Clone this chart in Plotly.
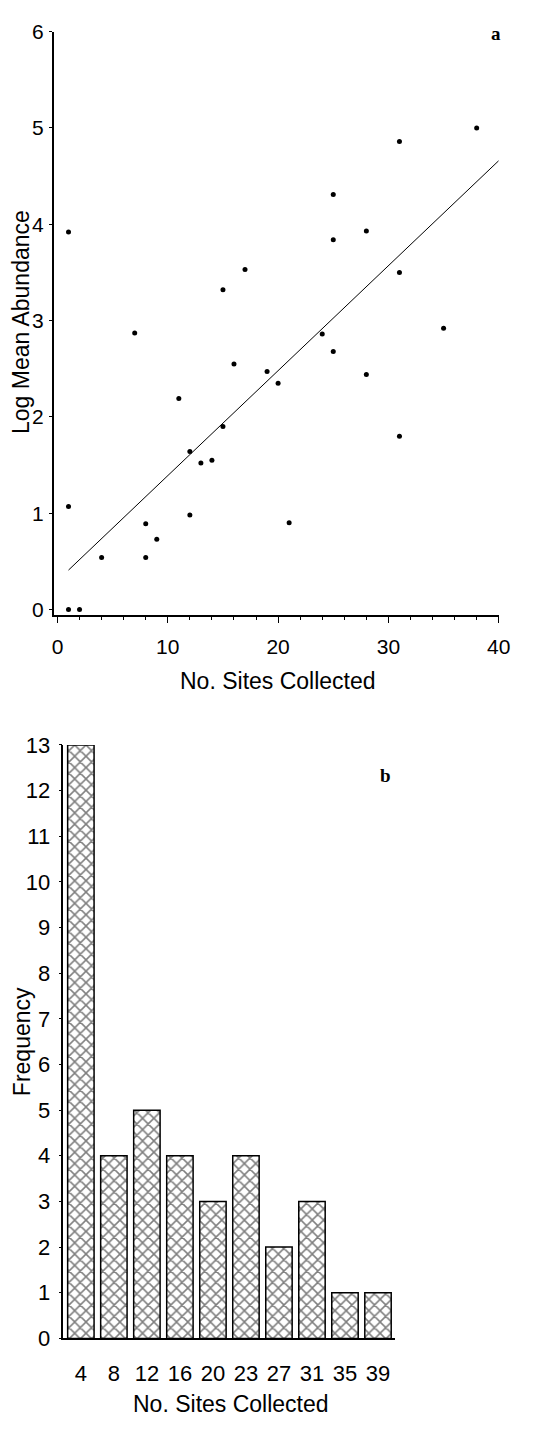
import plotly.graph_objects as go

# ---- Panel a data: number of sites collected vs log mean abundance ----
sites = [1, 1, 1, 2, 4, 7, 8, 8, 9, 11, 12, 12, 13, 14, 15, 15, 16, 17, 19, 20,
         21, 24, 25, 25, 25, 28, 28, 31, 31, 31, 35, 38]
log_abund = [3.92, 1.07, 0.0, 0.0, 0.54, 2.87, 0.89, 0.54, 0.73, 2.19, 1.64, 0.98,
             1.52, 1.55, 1.90, 3.32, 2.55, 3.53, 2.47, 2.35, 0.90, 2.86, 4.31, 3.84,
             2.68, 3.93, 2.44, 4.86, 3.50, 1.80, 2.92, 5.00]

# regression line
fit_intercept = 0.30
fit_slope = 0.109
fit_x = [1, 40]
fit_y = [fit_intercept + fit_slope * v for v in fit_x]

# ---- Panel b data: histogram of number of sites collected ----
bin_labels = ["4", "8", "12", "16", "20", "23", "27", "31", "35", "39"]
frequency = [13, 4, 5, 4, 3, 4, 2, 3, 1, 1]

W, H = 538, 1429

def px(x):
    return x / W

def py(y):
    return 1 - y / H

FONT = "Liberation Sans, Arial, sans-serif"

fig = go.Figure()

fig.add_trace(go.Scatter(
    x=sites, y=log_abund, mode="markers",
    marker=dict(color="black", size=5),
    xaxis="x", yaxis="y", showlegend=False))

fig.add_trace(go.Scatter(
    x=fit_x, y=fit_y, mode="lines",
    line=dict(color="black", width=1),
    xaxis="x", yaxis="y", showlegend=False))

fig.add_trace(go.Bar(
    x=list(range(len(bin_labels))), y=frequency, width=0.8,
    marker=dict(color="white",
                line=dict(color="black", width=1.5),
                pattern=dict(shape="x", fgcolor="black", bgcolor="white",
                             size=8, solidity=0.35)),
    xaxis="x2", yaxis="y2", showlegend=False))

axis_common = dict(showgrid=False, zeroline=False, showline=True,
                   linecolor="black", linewidth=1.5, ticks="outside",
                   tickcolor="black", tickwidth=1, color="black")

fig.update_layout(
    width=W, height=H,
    margin=dict(l=0, r=0, t=0, b=0),
    paper_bgcolor="white", plot_bgcolor="white",
    font=dict(family=FONT, color="black"),
    xaxis=dict(**axis_common, domain=[px(53), px(510)], range=[-0.35, 40],
               tickvals=[0, 10, 20, 30, 40], ticklen=6,
               tickfont=dict(size=21, family=FONT),
               ticklabelstandoff=6,
               minor=dict(dtick=2, ticklen=3, ticks="outside",
                          tickcolor="black", tickwidth=1),
               anchor="y"),
    yaxis=dict(**axis_common, domain=[py(614), py(20)], range=[-0.06, 6],
               tickvals=[0, 1, 2, 3, 4, 5, 6], ticklen=3,
               tickfont=dict(size=21, family=FONT),
               ticklabelstandoff=1,
               anchor="x"),
    xaxis2=dict(**{k: v for k, v in axis_common.items() if k != "ticks"},
                ticks="", domain=[px(63), px(403)], range=[-0.53, 9.5],
                tickvals=list(range(len(bin_labels))), ticktext=bin_labels,
                tickfont=dict(size=22, family=FONT),
                ticklabelstandoff=14,
                anchor="y2"),
    yaxis2=dict(**axis_common, domain=[py(1350), py(746)], range=[0, 13],
                tickvals=list(range(0, 14)), ticklen=3,
                tickfont=dict(size=22, family=FONT),
                ticklabelstandoff=4,
                anchor="x2"),
    annotations=[
        dict(text="<b>a</b>", x=px(507), y=py(22), xref="paper", yref="paper",
             xanchor="center", yanchor="middle",
             showarrow=False, font=dict(family="Liberation Serif, serif", size=19)),
        dict(text="<b>b</b>", x=px(394), y=py(777), xref="paper", yref="paper",
             xanchor="center", yanchor="middle",
             showarrow=False, font=dict(family="Liberation Serif, serif", size=19)),
        dict(text="No. Sites Collected", x=px(283), y=py(681), xref="paper", yref="paper",
             xanchor="center", yanchor="middle",
             showarrow=False, font=dict(size=23, family=FONT)),
        dict(text="No. Sites Collected", x=px(235), y=py(1417), xref="paper", yref="paper",
             xanchor="center", yanchor="middle",
             showarrow=False, font=dict(size=23, family=FONT)),
        dict(text="Log Mean Abundance", x=px(20), y=py(315), xref="paper", yref="paper",
             xanchor="center", yanchor="middle",
             showarrow=False, textangle=-90, font=dict(size=23, family=FONT)),
        dict(text="Frequency", x=px(20), y=py(1048), xref="paper", yref="paper",
             xanchor="center", yanchor="middle",
             showarrow=False, textangle=-90, font=dict(size=23, family=FONT)),
    ],
)

fig.write_html("out.html")
